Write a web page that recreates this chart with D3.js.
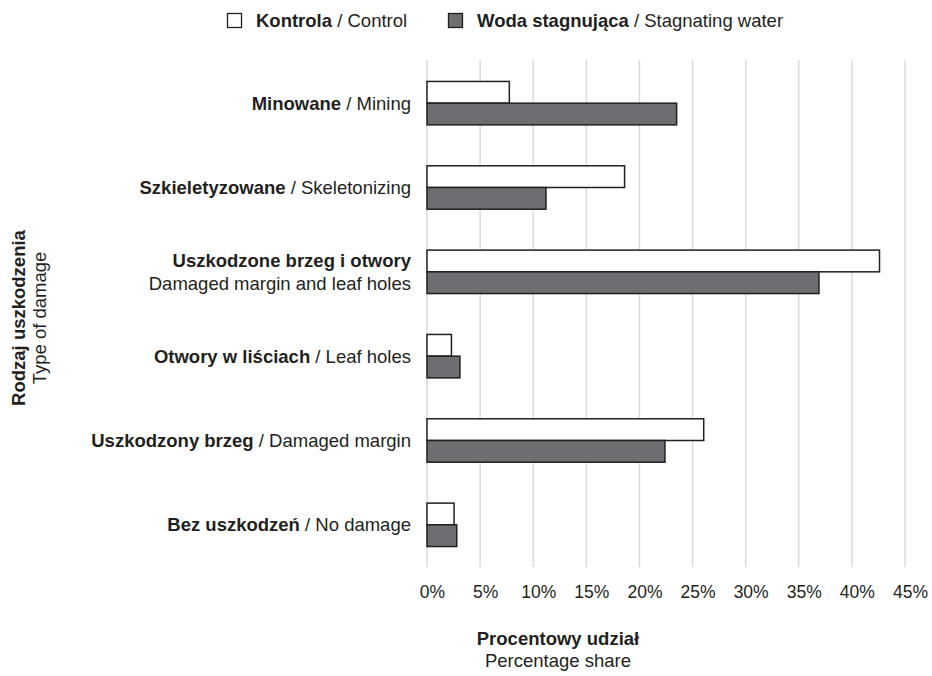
<!DOCTYPE html>
<html><head><meta charset="utf-8">
<script src="https://cdn.jsdelivr.net/npm/d3@7"></script>
<style>
body{margin:0;background:#fff;}
text{font-family:"Liberation Sans",Arial,sans-serif;fill:#231f20;}
</style></head>
<body><svg id="c" width="932" height="676"></svg>
<script>
const categoriesPL = ["Minowane","Szkieletyzowane","Uszkodzone brzeg i otwory","Otwory w liściach","Uszkodzony brzeg","Bez uszkodzeń"];
const categoriesEN = ["Mining","Skeletonizing","Damaged margin and leaf holes","Leaf holes","Damaged margin","No damage"];
const controlValues = [7.75, 18.6, 42.6, 2.3, 26.05, 2.55];
const stagnatingValues = [23.5, 11.2, 36.9, 3.1, 22.4, 2.8];
const seriesPL = ["Kontrola","Woda stagnująca"];
const seriesEN = ["Control","Stagnating water"];
const xTicks = [0,5,10,15,20,25,30,35,40,45];

const svg = d3.select("#c");
const x = d3.scaleLinear().domain([0,45]).range([427,905]);
const y = d3.scaleBand().domain(categoriesPL).range([61,567]).paddingInner(0.485).paddingOuter(0.2425);
const colors = ["#ffffff","#6d6e71"];
const series = [controlValues, stagnatingValues];

// grid
svg.append("g").selectAll("line").data(xTicks).join("line")
  .attr("x1",d=>x(d)).attr("x2",d=>x(d)).attr("y1",60).attr("y2",567)
  .attr("stroke","#d9d9d9").attr("stroke-width",1.4);

// tick labels
svg.append("g").selectAll("text").data(xTicks).join("text")
  .attr("x",d=>x(d)+5.5).attr("y",598).attr("text-anchor","middle")
  .style("font-size","17.5px").text(d=>d+"%");

// bars
const bh = y.bandwidth()/2;
series.forEach((vals,si)=>{
  svg.append("g").selectAll("rect").data(categoriesPL).join("rect")
    .attr("x",x(0)).attr("y",(d)=>y(d)+si*bh)
    .attr("width",(d,i)=>x(vals[i])-x(0)).attr("height",bh)
    .attr("fill",colors[si]).attr("stroke","#231f20").attr("stroke-width",1.5);
});

// category labels
const lab = svg.append("g");
categoriesPL.forEach((c,i)=>{
  const cy = y(c)+y.bandwidth()/2;
  if (categoriesEN[i].length > 20) {
    const t1 = lab.append("text").attr("x",411).attr("y",cy-4.5).attr("text-anchor","end").style("font-size","18.5px");
    t1.append("tspan").style("font-weight","bold").text(c);
    lab.append("text").attr("x",411).attr("y",cy+18.5).attr("text-anchor","end").style("font-size","18.5px").text(categoriesEN[i]);
  } else {
    const t = lab.append("text").attr("x",411).attr("y",cy+6.5).attr("text-anchor","end").style("font-size","18.5px");
    t.append("tspan").style("font-weight","bold").text(c);
    t.append("tspan").text(" / "+categoriesEN[i]);
  }
});

// legend
const legX = [227.5, 448.5];
const legTextX = [256, 477];
seriesPL.forEach((s,i)=>{
  svg.append("rect").attr("x",legX[i]).attr("y",13.5).attr("width",14).attr("height",14)
    .attr("fill",colors[i]).attr("stroke","#231f20").attr("stroke-width",1.3);
  const t = svg.append("text").attr("x",legTextX[i]).attr("y",27).style("font-size","18.5px");
  t.append("tspan").style("font-weight","bold").text(s);
  t.append("tspan").text(" / "+seriesEN[i]);
});

// axis titles
svg.append("text").attr("x",558).attr("y",645).attr("text-anchor","middle")
  .style("font-size","18.5px").style("font-weight","bold").text("Procentowy udział");
svg.append("text").attr("x",558).attr("y",667).attr("text-anchor","middle")
  .style("font-size","18.5px").text("Percentage share");
svg.append("text").attr("transform","translate(25,318) rotate(-90)").attr("text-anchor","middle")
  .style("font-size","18.5px").style("font-weight","bold").text("Rodzaj uszkodzenia");
svg.append("text").attr("transform","translate(46,318) rotate(-90)").attr("text-anchor","middle")
  .style("font-size","18.5px").text("Type of damage");
</script></body></html>
